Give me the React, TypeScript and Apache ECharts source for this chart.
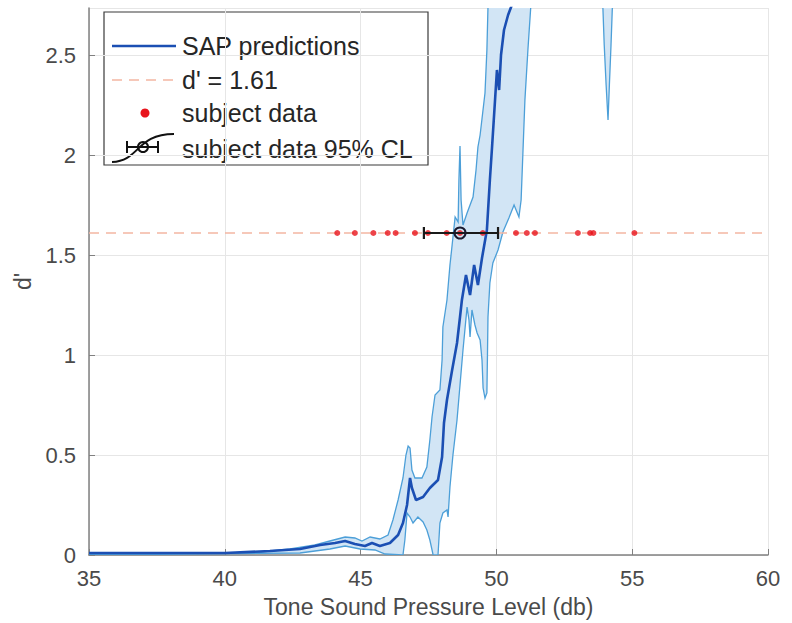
import React, { useEffect, useRef } from "react";
import * as echarts from "echarts";

const xMin = 35;
const xMax = 60;
const xStep = 5;
const yMin = 0;
const yMax = 2.735;
const yStep = 0.5;
const threshold = 1.61;

// SAP prediction mean curve
const meanCurve: [number, number][] = [
  [35, 0.01], [40, 0.01], [41.66, 0.02], [42.77, 0.03], [43.51, 0.05], [44.06, 0.06],
  [44.43, 0.07], [44.79, 0.055], [45.16, 0.045], [45.42, 0.06], [45.71, 0.045], [46.08, 0.06],
  [46.38, 0.1], [46.56, 0.16], [46.71, 0.25], [46.82, 0.385], [46.89, 0.335], [47.04, 0.275],
  [47.3, 0.29], [47.55, 0.335], [47.85, 0.375], [48.0, 0.49], [48.07, 0.66], [48.18, 0.775],
  [48.37, 0.925], [48.55, 1.06], [48.66, 1.19], [48.73, 1.275], [48.88, 1.4], [49.03, 1.3],
  [49.18, 1.45], [49.32, 1.35], [49.47, 1.485], [49.65, 1.625], [49.76, 1.875], [49.84, 2.04],
  [49.95, 2.275], [50.02, 2.425], [50.1, 2.325], [50.17, 2.5], [50.28, 2.625], [50.43, 2.7],
  [50.57, 2.75], [50.65, 2.875],
];

// upper (left) edge of the prediction band
const bandUpper: [number, number][] = [
  [35, 0.005], [39.09, 0.005], [41.3, 0.015], [42.4, 0.03], [43.32, 0.05], [43.87, 0.07],
  [44.43, 0.09], [44.79, 0.085], [45.05, 0.07], [45.35, 0.09], [45.71, 0.08], [46.01, 0.1],
  [46.19, 0.175], [46.38, 0.275], [46.56, 0.385], [46.67, 0.5], [46.75, 0.545], [46.82, 0.535],
  [46.89, 0.425], [47.0, 0.385], [47.26, 0.385], [47.44, 0.44], [47.55, 0.575], [47.63, 0.69],
  [47.74, 0.8], [47.92, 0.825], [48.0, 0.975], [48.03, 1.14], [48.18, 1.275], [48.29, 1.45],
  [48.37, 1.55], [48.48, 1.69], [48.59, 1.665], [48.62, 1.875], [48.66, 2.045], [48.7, 1.775],
  [48.77, 1.65], [48.92, 1.71], [49.14, 1.79], [49.25, 1.925], [49.32, 2.04], [49.4, 2.1],
  [49.58, 2.31], [49.65, 2.525], [49.69, 2.74], [49.73, 2.875],
];

// lower (right) edge of the prediction band
const bandLower: [number, number][] = [
  [35, 0], [42.77, 0.01], [43.87, 0.03], [44.43, 0.045], [44.98, 0.03], [45.53, 0.025],
  [45.9, 0.005], [46.56, 0], [46.63, 0.075], [46.71, 0.21], [46.82, 0.19], [46.93, 0.16],
  [47.11, 0.19], [47.3, 0.165], [47.44, 0.125], [47.55, 0.075], [47.67, 0], [47.85, 0],
  [47.92, 0.16], [48.03, 0.21], [48.18, 0.225], [48.22, 0.19], [48.29, 0.34], [48.4, 0.5],
  [48.55, 0.675], [48.66, 0.85], [48.77, 1.025], [48.92, 1.24], [48.99, 1.175], [49.03, 1.09],
  [49.1, 1.225], [49.21, 1.15], [49.29, 1.11], [49.4, 1.075], [49.47, 0.975], [49.51, 0.835],
  [49.58, 0.785], [49.65, 0.81], [49.67, 0.99], [49.69, 1.19], [49.76, 1.36], [49.87, 1.46],
  [50.06, 1.525], [50.24, 1.615], [50.46, 1.685], [50.65, 1.75], [50.83, 1.69], [50.91, 1.775],
  [50.98, 2.025], [51.05, 2.275], [51.16, 2.525], [51.27, 2.75], [51.31, 2.875],
];

// isolated band fragment near 54 dB
const fragmentLeft: [number, number][] = [
  [53.92, 2.875], [53.92, 2.74], [53.97, 2.55], [54.04, 2.35], [54.11, 2.175],
];
const fragmentRight: [number, number][] = [
  [54.16, 2.35], [54.22, 2.55], [54.27, 2.74], [54.27, 2.875],
];

// subject data (thresholds at d' = 1.61)
const subjectX = [
  44.14, 44.79, 45.47, 46.0, 46.29, 47.0, 47.48, 48.17, 48.66, 49.5,
  50.72, 51.12, 51.42, 53.0, 53.45, 53.57, 55.08,
];

// 95% confidence limits
const ciCenter = 48.66;
const ciLow = 47.33;
const ciHigh = 50.06;

const FONT = "'Liberation Sans', Arial, Helvetica, sans-serif";
const MEAN_COLOR = "#1b4fb3";
const EDGE_COLOR = "#4c9fd8";
const FILL_COLOR = "#d2e5f5";
const DASH_COLOR = "#f3b7a2";
const DOT_COLOR = "#e8141c";
const TEXT_COLOR = "#262626";
const LABEL_COLOR = "#4a4a4a";

export default function App() {
  const ref = useRef<HTMLDivElement>(null);

  useEffect(() => {
    document.body.style.margin = "0";
    if (!ref.current) return;
    const chart = echarts.init(ref.current, null, { renderer: "svg" });

    const polygons: [number, number][][] = [
      bandUpper.concat(bandLower.slice().reverse()),
      fragmentLeft.concat(fragmentRight),
    ];

    const onStep = (v: number) => Math.abs(v / yStep - Math.round(v / yStep)) < 1e-6;

    const legendX = 104;
    const legendY = 12;
    const rowY = [46, 80, 113, 149];

    const option: any = {
      animation: false,
      backgroundColor: "#ffffff",
      grid: { left: 89, top: 8, width: 679, height: 547, containLabel: false },
      xAxis: {
        type: "value",
        min: xMin,
        max: xMax,
        interval: xStep,
        name: "Tone Sound Pressure Level (db)",
        nameLocation: "middle",
        nameGap: 40,
        nameTextStyle: { fontFamily: FONT, fontSize: 23, color: LABEL_COLOR },
        axisLine: { show: true, lineStyle: { color: "#808080", width: 1.5 } },
        axisTick: { show: true, inside: true, length: 6, lineStyle: { color: "#808080" } },
        axisLabel: { fontFamily: FONT, fontSize: 22, color: LABEL_COLOR, margin: 12 },
        splitLine: { show: true, lineStyle: { color: "#e6e6e6", width: 1 } },
      },
      yAxis: {
        type: "value",
        min: yMin,
        max: yMax,
        interval: yStep,
        name: "d'",
        nameLocation: "middle",
        nameGap: 40,
        nameRotate: 90,
        nameTextStyle: { fontFamily: FONT, fontSize: 23, color: LABEL_COLOR },
        axisLine: { show: true, lineStyle: { color: "#808080", width: 1.5 } },
        axisTick: {
          show: true,
          inside: true,
          length: 6,
          lineStyle: { color: "#808080" },
        },
        axisLabel: {
          fontFamily: FONT,
          fontSize: 22,
          color: LABEL_COLOR,
          margin: 13,
          showMaxLabel: false,
          formatter: (v: number) => (onStep(v) ? String(v) : ""),
        },
        splitLine: { show: true, lineStyle: { color: "#e6e6e6", width: 1 } },
      },
      series: [
        {
          type: "custom",
          name: "band",
          coordinateSystem: "cartesian2d",
          clip: true,
          z: 2,
          data: polygons.map((p, i) => [p[0][0], p[0][1], i]),
          encode: { x: 0, y: 1 },
          renderItem: (params: any, api: any) => {
            const poly = polygons[params.dataIndex];
            const pts = poly.map((p) => api.coord(p));
            return {
              type: "polygon",
              shape: { points: pts },
              style: { fill: FILL_COLOR, stroke: EDGE_COLOR, lineWidth: 1.3 },
            };
          },
        },
        {
          type: "line",
          name: "SAP predictions",
          data: meanCurve,
          showSymbol: false,
          clip: true,
          z: 3,
          lineStyle: { color: MEAN_COLOR, width: 2.6 },
        },
        {
          type: "line",
          name: "d' = 1.61",
          data: [
            [xMin, threshold],
            [xMax, threshold],
          ],
          showSymbol: false,
          z: 4,
          lineStyle: { color: DASH_COLOR, width: 1.6, type: [10, 7] },
        },
        {
          type: "scatter",
          name: "subject data",
          data: subjectX.map((x) => [x, threshold]),
          symbol: "circle",
          symbolSize: 6,
          z: 5,
          itemStyle: { color: DOT_COLOR },
        },
        {
          type: "custom",
          name: "subject data 95% CL",
          coordinateSystem: "cartesian2d",
          z: 6,
          data: [[ciCenter, threshold, ciLow, ciHigh]],
          encode: { x: 0, y: 1 },
          renderItem: (params: any, api: any) => {
            const c = api.coord([api.value(0), api.value(1)]);
            const lo = api.coord([api.value(2), api.value(1)]);
            const hi = api.coord([api.value(3), api.value(1)]);
            const st = { stroke: "#1a1a1a", lineWidth: 2.2 };
            return {
              type: "group",
              children: [
                { type: "line", shape: { x1: lo[0], y1: lo[1], x2: hi[0], y2: hi[1] }, style: st },
                { type: "line", shape: { x1: lo[0], y1: lo[1] - 6, x2: lo[0], y2: lo[1] + 6 }, style: st },
                { type: "line", shape: { x1: hi[0], y1: hi[1] - 6, x2: hi[0], y2: hi[1] + 6 }, style: st },
                {
                  type: "circle",
                  shape: { cx: c[0], cy: c[1], r: 5.5 },
                  style: { fill: "none", stroke: "#1a1a2e", lineWidth: 2 },
                },
              ],
            };
          },
        },
      ],
      graphic: [
        {
          type: "group",
          z: 100,
          children: [
            {
              type: "rect",
              shape: { x: legendX, y: legendY, width: 324, height: 153 },
              style: { fill: "#ffffff", stroke: "#3a3a3a", lineWidth: 1.2 },
            },
            {
              type: "line",
              shape: { x1: 112, y1: rowY[0], x2: 176, y2: rowY[0] },
              style: { stroke: MEAN_COLOR, lineWidth: 2.6 },
            },
            {
              type: "line",
              shape: { x1: 112, y1: rowY[1], x2: 176, y2: rowY[1] },
              style: { stroke: DASH_COLOR, lineWidth: 1.6, lineDash: [10, 7] },
            },
            {
              type: "circle",
              shape: { cx: 145, cy: rowY[2], r: 4.5 },
              style: { fill: DOT_COLOR },
            },
            {
              type: "bezierCurve",
              shape: { x1: 112, y1: 162, cpx1: 140, cpy1: 161, cpx2: 136, cpy2: 134, x2: 174, y2: 134 },
              style: { stroke: "#111111", lineWidth: 2, fill: "none" },
            },
            {
              type: "line",
              shape: { x1: 127, y1: 147, x2: 158, y2: 147 },
              style: { stroke: "#111111", lineWidth: 2 },
            },
            {
              type: "line",
              shape: { x1: 127, y1: 141, x2: 127, y2: 153 },
              style: { stroke: "#111111", lineWidth: 2 },
            },
            {
              type: "line",
              shape: { x1: 158, y1: 141, x2: 158, y2: 153 },
              style: { stroke: "#111111", lineWidth: 2 },
            },
            {
              type: "circle",
              shape: { cx: 143, cy: 147, r: 5 },
              style: { fill: "none", stroke: "#111111", lineWidth: 2 },
            },
            ...["SAP predictions", "d' = 1.61", "subject data", "subject data 95% CL"].map((t, i) => ({
              type: "text",
              x: 182,
              y: rowY[i],
              style: {
                text: t,
                fontFamily: FONT,
                fontSize: 25,
                fill: TEXT_COLOR,
                verticalAlign: "middle",
              },
            })),
          ],
        },
      ],
    };

    chart.setOption(option);
    return () => chart.dispose();
  }, []);

  return <div ref={ref} style={{ width: 792, height: 623 }} />;
}
